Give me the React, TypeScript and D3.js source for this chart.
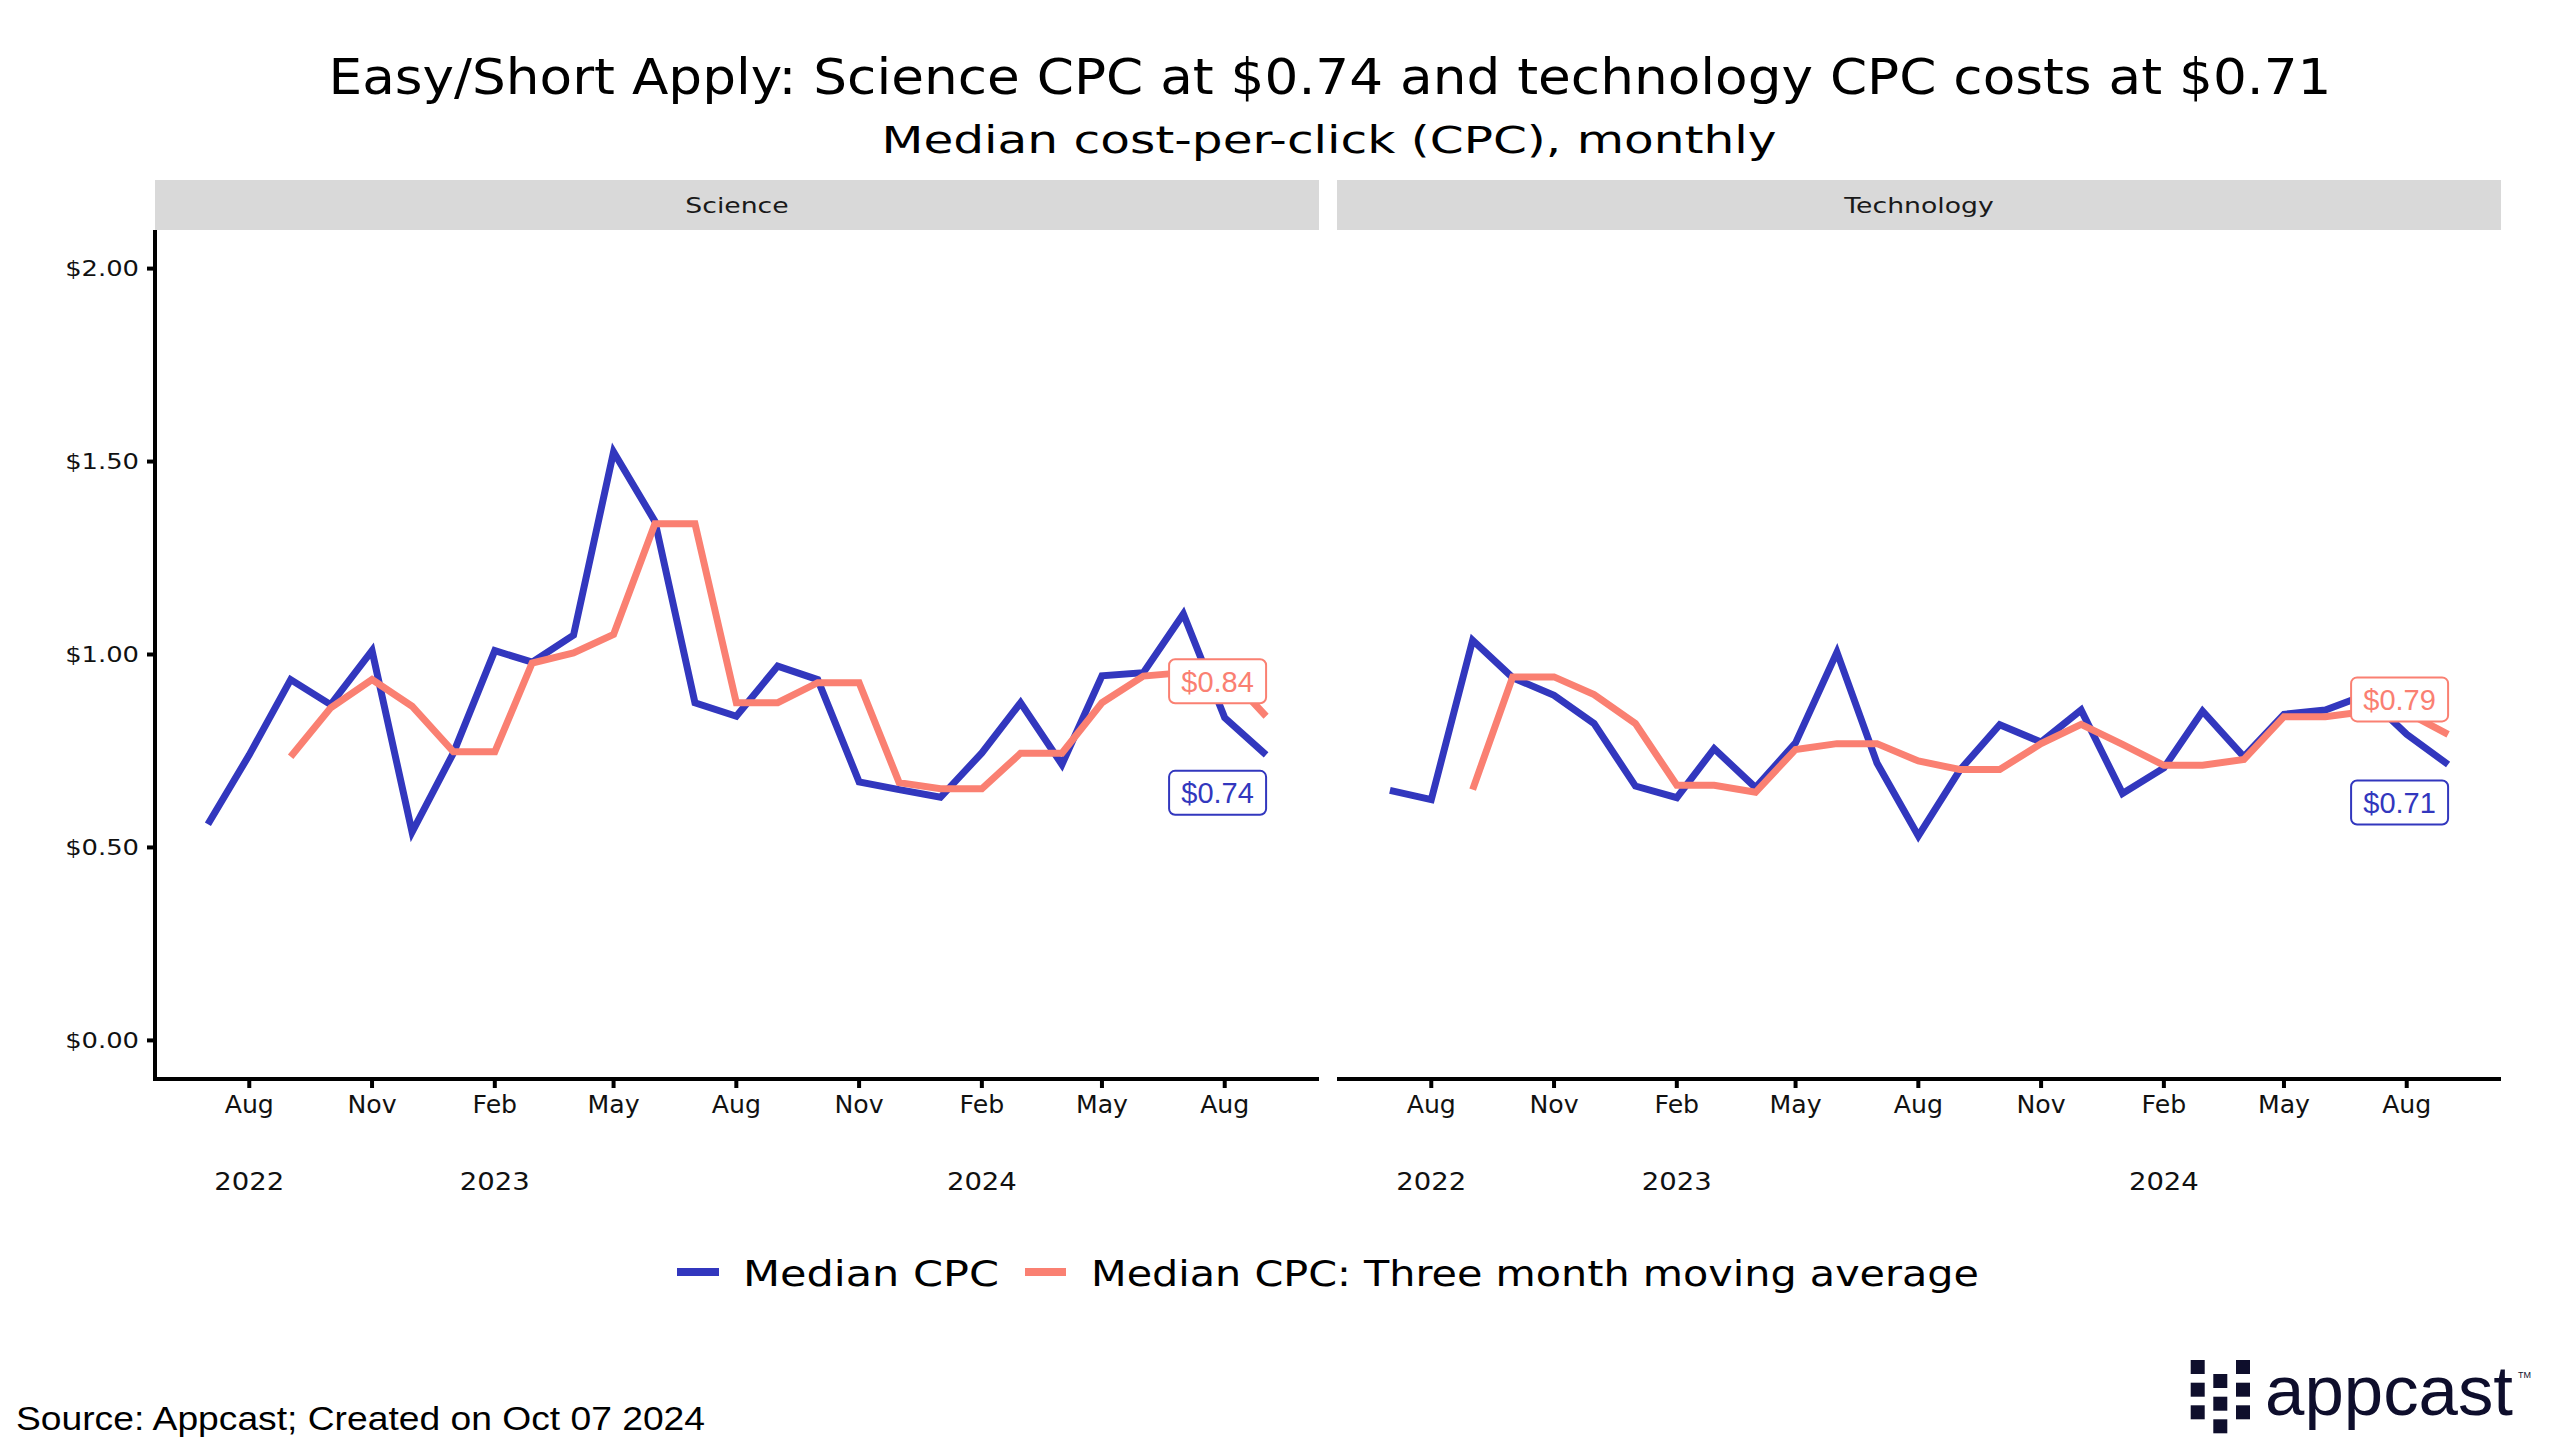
import React from "react";
import * as d3 from "d3";

// ---------- data ----------
const months = [
  "2022-07", "2022-08", "2022-09", "2022-10", "2022-11", "2022-12",
  "2023-01", "2023-02", "2023-03", "2023-04", "2023-05", "2023-06",
  "2023-07", "2023-08", "2023-09", "2023-10", "2023-11", "2023-12",
  "2024-01", "2024-02", "2024-03", "2024-04", "2024-05", "2024-06",
  "2024-07", "2024-08", "2024-09",
];

const scienceMedian = [
  0.56, 0.74, 0.935, 0.87, 1.01, 0.54,
  0.745, 1.01, 0.98, 1.05, 1.525, 1.345,
  0.875, 0.84, 0.97, 0.935, 0.67, 0.65,
  0.63, 0.745, 0.875, 0.715, 0.945, 0.953,
  1.105, 0.836, 0.74,
];

const scienceAvg = [
  null, null, 0.735, 0.862, 0.935, 0.866,
  0.748, 0.748, 0.978, 1.004, 1.052, 1.339,
  1.339, 0.875, 0.875, 0.927, 0.927, 0.668,
  0.652, 0.652, 0.744, 0.744, 0.875, 0.944,
  0.953, 0.955, 0.84,
];

const techMedian = [
  0.648, 0.624, 1.037, 0.94, 0.894, 0.821,
  0.659, 0.629, 0.756, 0.655, 0.771, 1.006,
  0.719, 0.53, 0.70, 0.818, 0.773, 0.856,
  0.64, 0.706, 0.853, 0.735, 0.845, 0.856,
  0.895, 0.793, 0.715,
];

const techAvg = [
  null, null, 0.65, 0.942, 0.942, 0.896,
  0.821, 0.661, 0.661, 0.643, 0.754, 0.769,
  0.769, 0.724, 0.702, 0.702, 0.769, 0.819,
  0.767, 0.713, 0.713, 0.728, 0.839, 0.839,
  0.852, 0.85, 0.793,
];

const facetNames = ["Science", "Technology"];
const facetMedian = [scienceMedian, techMedian];
const facetAvg = [scienceAvg, techAvg];

const yTicks = [0, 0.5, 1, 1.5, 2];
const monthTicks = ["2022-08", "2022-11", "2023-02", "2023-05", "2023-08", "2023-11", "2024-02", "2024-05", "2024-08"];
const monthTickLabels = ["Aug", "Nov", "Feb", "May", "Aug", "Nov", "Feb", "May", "Aug"];
const yearTicks = ["2022-08", "2023-02", "2024-02"];
const yearTickLabels = ["2022", "2023", "2024"];

const seriesNames = ["Median CPC", "Median CPC: Three month moving average"];

const titleText = "Easy/Short Apply: Science CPC at $0.74 and technology CPC costs at $0.71";
const subtitleText = "Median cost-per-click (CPC), monthly";
const sourceText = "Source: Appcast; Created on Oct 07 2024";

// ---------- style ----------
const BLUE = "#3237BE";
const ORANGE = "#FA8072";
const WIDE = "'DejaVu Sans', sans-serif";
const ARIAL = "'Liberation Sans', Arial, sans-serif";

const W = 2560;
const H = 1455;
const panelLefts = [155, 1337];
const panelWidth = 1164;
const plotTop = 230;
const plotBottom = 1079;
const stripTop = 180;

const parse = d3.timeParse("%Y-%m");
const dates = months.map((m) => parse(m) as Date);

export default function App() {
  const t0 = dates[0].getTime();
  const t1 = dates[dates.length - 1].getTime();
  const pad = (t1 - t0) * 0.05;

  const y = d3.scaleLinear().domain([-0.1, 2.1]).range([plotBottom, plotTop]);

  const fmt = (v: number) => "$" + v.toFixed(2);

  const panels = facetNames.map((name, fi) => {
    const left = panelLefts[fi];
    const x = d3
      .scaleTime()
      .domain([new Date(t0 - pad), new Date(t1 + pad)])
      .range([left, left + panelWidth]);
    const line = d3
      .line<number | null>()
      .defined((d) => d != null)
      .x((_, i) => x(dates[i]))
      .y((d) => y(d as number));
    const med = facetMedian[fi];
    const avg = facetAvg[fi];
    const lastI = dates.length - 1;
    const xl = x(dates[lastI]);
    const boxW = 97;
    const boxH = 44;
    const labels = [
      { v: avg[lastI] as number, color: ORANGE, cy: y(avg[lastI] as number) - 35 },
      { v: med[lastI], color: BLUE, cy: y(med[lastI]) + 38 },
    ];
    return (
      <g key={name}>
        {/* strip */}
        <rect x={left} y={stripTop} width={panelWidth} height={plotTop - stripTop} fill="#D9D9D9" />
        <text
          transform={`translate(${left + panelWidth / 2},213) scale(1.27,1)`}
          textAnchor="middle"
          fontFamily={WIDE}
          fontSize={21}
          fill="#1a1a1a"
        >
          {name}
        </text>
        {/* lines */}
        <path d={line(med) || ""} fill="none" stroke={BLUE} strokeWidth={7} strokeLinejoin="miter" strokeMiterlimit={3} />
        <path d={line(avg) || ""} fill="none" stroke={ORANGE} strokeWidth={7} strokeLinejoin="miter" strokeMiterlimit={3} />
        {/* end labels */}
        {labels.map((l, i) => (
          <g key={i}>
            <rect
              x={xl - boxW}
              y={l.cy - boxH / 2}
              width={boxW}
              height={boxH}
              rx={6}
              fill="#fff"
              stroke={l.color}
              strokeWidth={2}
            />
            <text
              x={xl - boxW / 2}
              y={l.cy}
              dy="0.36em"
              textAnchor="middle"
              fontFamily={ARIAL}
              fontSize={29}
              fill={l.color}
            >
              {fmt(l.v)}
            </text>
          </g>
        ))}
        {/* x axis */}
        <line x1={left - (fi === 0 ? 2 : 0)} x2={left + panelWidth} y1={plotBottom} y2={plotBottom} stroke="#000" strokeWidth={4} />
        {monthTicks.map((m, i) => {
          const xx = x(parse(m) as Date);
          return (
            <g key={m}>
              <line x1={xx} x2={xx} y1={plotBottom} y2={plotBottom + 9} stroke="#000" strokeWidth={4} />
              <text
                transform={`translate(${xx},1113) scale(1.05,1)`}
                textAnchor="middle"
                fontFamily={WIDE}
                fontSize={24}
                fill="#111"
              >
                {monthTickLabels[i]}
              </text>
            </g>
          );
        })}
        {yearTicks.map((m, i) => {
          const xx = x(parse(m) as Date);
          return (
            <text
              key={m}
              transform={`translate(${xx},1190) scale(1.1,1)`}
              textAnchor="middle"
              fontFamily={WIDE}
              fontSize={25}
              fill="#111"
            >
              {yearTickLabels[i]}
            </text>
          );
        })}
        {/* y axis (left panel only) */}
        {fi === 0 && (
          <g>
            <line x1={left} x2={left} y1={plotTop} y2={plotBottom + 2} stroke="#000" strokeWidth={4} />
            {yTicks.map((t) => (
              <g key={t}>
                <line x1={left - 8} x2={left} y1={y(t)} y2={y(t)} stroke="#000" strokeWidth={4} />
                <text
                  transform={`translate(${left - 16},${y(t)}) scale(1.2,1)`}
                  dy="0.36em"
                  textAnchor="end"
                  fontFamily={WIDE}
                  fontSize={21.5}
                  fill="#111"
                >
                  {fmt(t)}
                </text>
              </g>
            ))}
          </g>
        )}
      </g>
    );
  });

  // logo squares (dot grid of the appcast mark)
  const logoCols = [2190.7, 2213.3, 2236];
  const logoRows = [
    [1360, 1382.7, 1405.3],
    [1374, 1396.7, 1419.3],
    [1360, 1382.7, 1405.3],
  ];

  return (
    <svg
      width={W}
      height={H}
      viewBox={`0 0 ${W} ${H}`}
      style={{ position: "absolute", left: 0, top: 0, display: "block", background: "#fff" }}
    >
      <rect x={0} y={0} width={W} height={H} fill="#fff" />
      {/* titles */}
      <text
        x={1330}
        y={94}
        textAnchor="middle"
        fontFamily={WIDE}
        fontSize={49}
        fill="#000"
        textLength={2003}
        lengthAdjust="spacingAndGlyphs"
      >
        {titleText}
      </text>
      <text
        x={1329}
        y={153}
        textAnchor="middle"
        fontFamily={WIDE}
        fontSize={37}
        fill="#000"
        textLength={895}
        lengthAdjust="spacingAndGlyphs"
      >
        {subtitleText}
      </text>

      {panels}

      {/* legend */}
      <line x1={677} x2={719} y1={1272} y2={1272} stroke={BLUE} strokeWidth={8} />
      <text x={743} y={1286} fontFamily={WIDE} fontSize={36} fill="#000" textLength={256} lengthAdjust="spacingAndGlyphs">
        {seriesNames[0]}
      </text>
      <line x1={1025} x2={1066} y1={1272} y2={1272} stroke={ORANGE} strokeWidth={8} />
      <text x={1091} y={1286} fontFamily={WIDE} fontSize={36} fill="#000" textLength={888} lengthAdjust="spacingAndGlyphs">
        {seriesNames[1]}
      </text>

      {/* source */}
      <text x={16} y={1430} fontFamily={ARIAL} fontSize={33} fill="#000" textLength={689} lengthAdjust="spacingAndGlyphs">
        {sourceText}
      </text>

      {/* logo */}
      <g fill="#0E0E2C">
        {logoCols.map((cx, ci) =>
          logoRows[ci].map((ry, ri) => (
            <rect key={`${ci}-${ri}`} x={cx} y={ry} width={14} height={14} />
          ))
        )}
        <text x={2265} y={1415} fontFamily={ARIAL} fontSize={71} textLength={248} lengthAdjust="spacingAndGlyphs">
          appcast
        </text>
        <text x={2518} y={1378} fontFamily={ARIAL} fontSize={9}>
          TM
        </text>
      </g>
    </svg>
  );
}
